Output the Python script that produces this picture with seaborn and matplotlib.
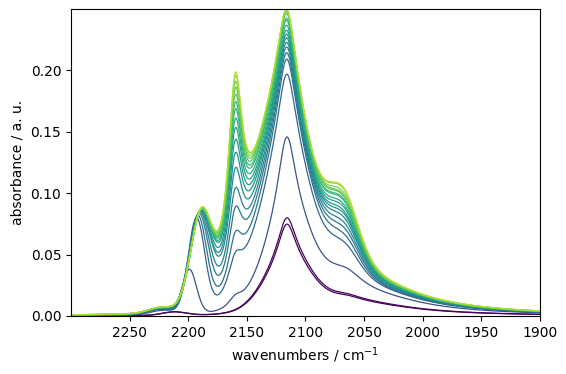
import numpy as np
import pandas as pd
import matplotlib
matplotlib.use("Agg")
import matplotlib.pyplot as plt
import seaborn as sns

# acquisition time of each spectrum (min), used for the colour scale
time_min = [0, 1, 17, 22, 25, 27, 30, 32, 35, 37, 40, 42, 45, 47, 50, 52, 55, 57, 60]

# band amplitudes (absorbance), one entry per spectrum
main_narrow = [0.032, 0.034, 0.066, 0.062, 0.063, 0.063, 0.063, 0.063, 0.063, 0.063,
               0.064, 0.064, 0.064, 0.064, 0.064, 0.064, 0.065, 0.065, 0.065]   # 2116 cm-1
main_broad = [0.041, 0.044, 0.076, 0.122, 0.131, 0.134, 0.137, 0.139, 0.141, 0.143,
              0.144, 0.147, 0.150, 0.151, 0.154, 0.155, 0.155, 0.155, 0.155]    # 2114 cm-1
band_2160 = [0.0, 0.0, 0.008, 0.025, 0.038, 0.055, 0.068, 0.082, 0.092, 0.101,
             0.109, 0.115, 0.121, 0.126, 0.131, 0.136, 0.140, 0.144, 0.147]
band_2190 = [0.0, 0.0, 0.036, 0.076, 0.077, 0.077, 0.077, 0.076, 0.076, 0.075,
             0.075, 0.074, 0.074, 0.074, 0.073, 0.073, 0.073, 0.073, 0.073]
band_2190_pos = [2199, 2199, 2199, 2193, 2192, 2191, 2190.5, 2190, 2190, 2189.5,
                 2189, 2189, 2189, 2189, 2189, 2189, 2189, 2189, 2189]
band_2190_sigma = [6, 6, 6, 7, 7.5, 8, 8.5, 9, 9, 9, 9, 9, 9, 9, 9, 9, 9, 9, 9]
broad_2145 = [0.0, 0.0, 0.0, 0.020, 0.024, 0.028, 0.031, 0.034, 0.037, 0.039,
              0.041, 0.043, 0.045, 0.046, 0.047, 0.048, 0.049, 0.050, 0.050]
shoulder_2070 = [0.003, 0.0033, 0.012, 0.025, 0.030, 0.034, 0.037, 0.040, 0.042, 0.044,
                 0.046, 0.048, 0.050, 0.051, 0.052, 0.053, 0.055, 0.057, 0.058]
tail_2060 = [0.0118, 0.0126, 0.023, 0.028, 0.029, 0.030, 0.031, 0.032, 0.033, 0.033,
             0.034, 0.034, 0.035, 0.035, 0.036, 0.036, 0.036, 0.037, 0.037]
band_2220 = [0.0028, 0.0028, 0.0035, 0.004, 0.004, 0.004, 0.004, 0.004, 0.004, 0.004,
             0.004, 0.004, 0.004, 0.004, 0.004, 0.004, 0.004, 0.004, 0.004]
band_2220_pos = [2212, 2212, 2222, 2224, 2224, 2224, 2224, 2224, 2224, 2224,
                 2224, 2224, 2224, 2224, 2224, 2224, 2224, 2224, 2224]


def lorentz(x, c, w):
    return 1.0 / (1.0 + ((x - c) / w) ** 2)


def gauss(x, c, s):
    return np.exp(-0.5 * ((x - c) / s) ** 2)


def split_lorentz(x, c, w_hi, w_lo):
    w = np.where(x > c, w_hi, w_lo)
    return 1.0 / (1.0 + ((x - c) / w) ** 2)


wn = np.linspace(2300, 1900, 801)
frames = []
for i, t in enumerate(time_min):
    absb = (main_narrow[i] * lorentz(wn, 2116, 9)
            + main_broad[i] * gauss(wn, 2114, 20)
            + band_2160[i] * lorentz(wn, 2160, 7.5)
            + band_2190[i] * gauss(wn, band_2190_pos[i], band_2190_sigma[i])
            + broad_2145[i] * gauss(wn, 2143, 20)
            + shoulder_2070[i] * gauss(wn, 2070, 14)
            + tail_2060[i] * split_lorentz(wn, 2060, 25, 55)
            + band_2220[i] * gauss(wn, band_2220_pos[i], 10))
    frames.append(pd.DataFrame({"wavenumber": wn, "absorbance": absb, "time": t}))
df = pd.concat(frames, ignore_index=True)

fig = plt.figure(figsize=(5.66, 3.74), dpi=100)
ax = fig.add_axes([0.1254, 0.1551, 0.8286, 0.8209])
sns.lineplot(data=df, x="wavenumber", y="absorbance", hue="time", palette="viridis",
             hue_norm=(0, 68), estimator=None, sort=False, linewidth=0.9,
             legend=False, ax=ax)

ax.set_xlim(2300, 1900)
ax.set_ylim(0, df["absorbance"].max())
ax.set_xticks([2250, 2200, 2150, 2100, 2050, 2000, 1950, 1900])
ax.set_yticks([0.0, 0.05, 0.10, 0.15, 0.20])
ax.set_xlabel("wavenumbers / cm$^{-1}$")
ax.set_ylabel("absorbance / a. u.")

fig.savefig("out.png", dpi=100)
